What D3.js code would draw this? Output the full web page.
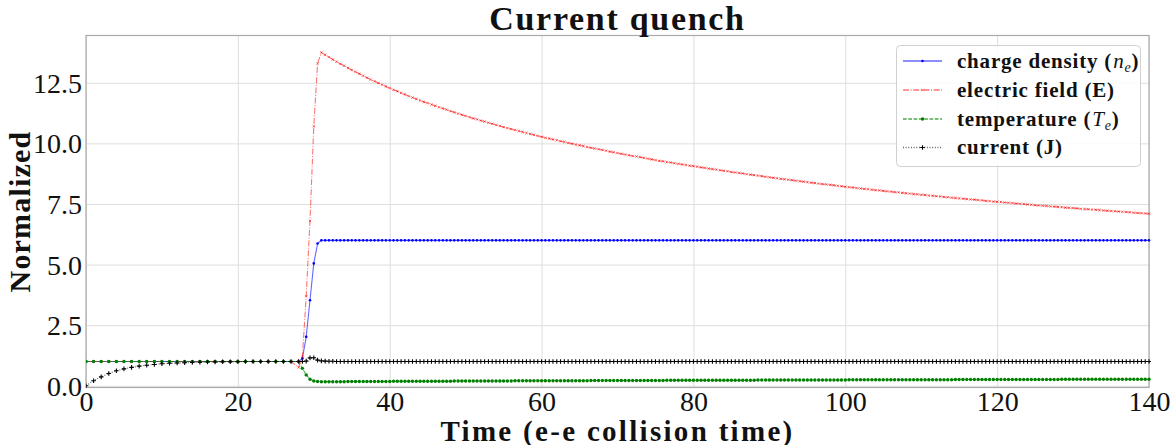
<!DOCTYPE html>
<html><head><meta charset="utf-8">
<script src="https://cdn.jsdelivr.net/npm/d3@7"></script>
<style>body{margin:0;background:#fff}svg{display:block}</style>
</head><body>
<svg id="chart" width="1175" height="445"></svg>
<script>
// ---------- data ----------
const time = [0,1,2,3,4,5,6,7,8,9,10,11,12,13,14,15,16,17,18,19,20,21,22,23,24,25,26,27,28,
 28.5,29,29.5,30,30.5,
 31,31.5,32,32.5,33,33.5,34,34.5,35,35.5,36,36.5,37,37.5,38,38.5,39,39.5,40,
 40.5,41,41.5,42,42.5,43,43.5,44,44.5,45,
 45.5,46,46.5,47,47.5,48,48.5,49,49.5,50,
 50.5,51,51.5,52,52.5,53,53.5,54,54.5,55,
 55.5,56,56.5,57,57.5,58,58.5,59,59.5,60,
 60.5,61,61.5,62,62.5,63,63.5,64,64.5,65,
 65.5,66,66.5,67,67.5,68,68.5,69,69.5,70,
 70.5,71,71.5,72,72.5,73,73.5,74,74.5,75,
 75.5,76,76.5,77,77.5,78,78.5,79,79.5,80,
 80.5,81,81.5,82,82.5,83,83.5,84,84.5,85,
 85.5,86,86.5,87,87.5,88,88.5,89,89.5,90,
 90.5,91,91.5,92,92.5,93,93.5,94,94.5,95,
 95.5,96,96.5,97,97.5,98,98.5,99,99.5,100,
 100.5,101,101.5,102,102.5,103,103.5,104,104.5,105,
 105.5,106,106.5,107,107.5,108,108.5,109,109.5,110,
 110.5,111,111.5,112,112.5,113,113.5,114,114.5,115,
 115.5,116,116.5,117,117.5,118,118.5,119,119.5,120,
 120.5,121,121.5,122,122.5,123,123.5,124,124.5,125,
 125.5,126,126.5,127,127.5,128,128.5,129,129.5,130,
 130.5,131,131.5,132,132.5,133,133.5,134,134.5,135,
 135.5,136,136.5,137,137.5,138,138.5,139,139.5,140];

const chargeDensity = [1,1,1,1,1,1,1,1,1,1,1,1,1,1,1,1,1,1,1,1,1,1,1,1,1,1,1,1,1,
 1.13,2.02,3.53,5.05,5.87,
 6,6,6,6,6,6,6,6,6,6,6,6,6,6,6,6,6,6,6,
 6,6,6,6,6,6,6,6,6,6, 6,6,6,6,6,6,6,6,6,6, 6,6,6,6,6,6,6,6,6,6, 6,6,6,6,6,6,6,6,6,6,
 6,6,6,6,6,6,6,6,6,6, 6,6,6,6,6,6,6,6,6,6, 6,6,6,6,6,6,6,6,6,6, 6,6,6,6,6,6,6,6,6,6,
 6,6,6,6,6,6,6,6,6,6, 6,6,6,6,6,6,6,6,6,6, 6,6,6,6,6,6,6,6,6,6, 6,6,6,6,6,6,6,6,6,6,
 6,6,6,6,6,6,6,6,6,6, 6,6,6,6,6,6,6,6,6,6, 6,6,6,6,6,6,6,6,6,6, 6,6,6,6,6,6,6,6,6,6,
 6,6,6,6,6,6,6,6,6,6, 6,6,6,6,6,6,6,6,6,6, 6,6,6,6,6,6,6,6,6,6, 6,6,6,6,6,6,6,6,6,6];

const electricField = [1,1,1,1,1,1,1,1,1,1,1,1,1,1,1,1,1,1,1,1,1,1,1,1,1,1,1,1,0.76,
 1.2,3.7,6.8,10.7,13.3,
 13.75,13.65,13.56,13.46,13.37,13.28,13.20,13.11,13.03,12.95,12.87,12.79,12.71,12.63,12.56,12.49,12.42,12.35,12.28,
 12.21,12.15,12.08,12.02,11.95,11.89,11.83,11.77,11.71,11.66,
 11.60,11.55,11.49,11.44,11.39,11.33,11.28,11.23,11.18,11.13,
 11.08,11.03,10.99,10.94,10.90,10.85,10.81,10.76,10.72,10.67,
 10.63,10.59,10.55,10.51,10.47,10.43,10.39,10.35,10.31,10.27,
 10.23,10.20,10.16,10.13,10.09,10.06,10.02,9.99,9.95,9.92,
 9.89,9.85,9.82,9.79,9.76,9.73,9.70,9.66,9.63,9.60,
 9.57,9.54,9.51,9.48,9.46,9.43,9.40,9.37,9.34,9.31,
 9.28,9.26,9.23,9.21,9.18,9.16,9.13,9.11,9.08,9.06,
 9.04,9.01,8.99,8.96,8.94,8.92,8.89,8.87,8.85,8.82,
 8.80,8.78,8.76,8.73,8.71,8.69,8.67,8.65,8.62,8.60,
 8.58,8.56,8.54,8.52,8.50,8.48,8.46,8.44,8.42,8.40,
 8.38,8.36,8.34,8.32,8.31,8.29,8.27,8.25,8.23,8.21,
 8.19,8.18,8.16,8.14,8.12,8.11,8.09,8.07,8.06,8.04,
 8.02,8.01,7.99,7.98,7.96,7.94,7.93,7.91,7.90,7.88,
 7.87,7.85,7.84,7.82,7.81,7.79,7.78,7.76,7.75,7.73,
 7.72,7.70,7.69,7.68,7.66,7.65,7.63,7.62,7.60,7.59,
 7.58,7.56,7.55,7.54,7.52,7.51,7.50,7.48,7.47,7.45,
 7.44,7.43,7.42,7.40,7.39,7.38,7.37,7.35,7.34,7.33,
 7.32,7.30,7.29,7.28,7.27,7.26,7.25,7.23,7.22,7.21,
 7.20,7.19,7.18,7.17,7.16,7.14,7.13,7.12,7.11,7.10];

const temperature = [1,1,1,1,1,1,1,1,1,1,1,1,1,1,1,1,1,1,1,1,1,1,1,1,1,1,1,1,1,
 0.72,0.45,0.27,0.2,0.18,
 0.17,0.17,0.17,0.17,0.17,0.17,0.17,0.18,0.18,0.18,0.18,0.18,0.18,0.18,0.18,0.18,0.18,0.18,0.18,
 0.19,0.19,0.19,0.19,0.19,0.19,0.19,0.19,0.19,0.19,
 0.19,0.19,0.19,0.19,0.19,0.19,0.2,0.2,0.2,0.2,
 0.2,0.2,0.2,0.2,0.2,0.2,0.2,0.2,0.2,0.2,
 0.2,0.2,0.21,0.21,0.21,0.21,0.21,0.21,0.21,0.21,
 0.21,0.21,0.21,0.21,0.21,0.21,0.21,0.21,0.21,0.21,
 0.21,0.21,0.22,0.22,0.22,0.22,0.22,0.22,0.22,0.22,
 0.22,0.22,0.22,0.22,0.22,0.22,0.22,0.22,0.22,0.22,
 0.22,0.22,0.23,0.23,0.23,0.23,0.23,0.23,0.23,0.23,
 0.23,0.23,0.23,0.23,0.23,0.23,0.23,0.23,0.23,0.23,
 0.23,0.23,0.23,0.23,0.23,0.23,0.24,0.24,0.24,0.24,
 0.24,0.24,0.24,0.24,0.24,0.24,0.24,0.24,0.24,0.24,
 0.24,0.24,0.24,0.24,0.24,0.24,0.24,0.24,0.24,0.24,
 0.25,0.25,0.25,0.25,0.25,0.25,0.25,0.25,0.25,0.25,
 0.25,0.25,0.25,0.25,0.25,0.25,0.25,0.25,0.25,0.25,
 0.25,0.25,0.25,0.25,0.25,0.25,0.25,0.25,0.26,0.26,
 0.26,0.26,0.26,0.26,0.26,0.26,0.26,0.26,0.26,0.26,
 0.26,0.26,0.26,0.26,0.26,0.26,0.26,0.26,0.26,0.26,
 0.26,0.26,0.26,0.26,0.26,0.26,0.27,0.27,0.27,0.27,
 0.27,0.27,0.27,0.27,0.27,0.27,0.27,0.27,0.27,0.27,
 0.27,0.27,0.27,0.27,0.27,0.27,0.27,0.27,0.27,0.27];

const current = [0,0.21,0.37,0.51,0.62,0.70,0.76,0.81,0.85,0.88,0.91,0.93,0.94,0.95,0.96,0.97,0.98,0.98,0.99,0.99,0.99,1,1,1,1,1,1,1,1,
 1.0,1.02,1.15,1.16,1.06,
 1.03,1.02,1.01,1.01,1,1,1,1,1,1,1,1,1,1,1,1,1,1,1,
 1,1,1,1,1,1,1,1,1,1, 1,1,1,1,1,1,1,1,1,1, 1,1,1,1,1,1,1,1,1,1, 1,1,1,1,1,1,1,1,1,1,
 1,1,1,1,1,1,1,1,1,1, 1,1,1,1,1,1,1,1,1,1, 1,1,1,1,1,1,1,1,1,1, 1,1,1,1,1,1,1,1,1,1,
 1,1,1,1,1,1,1,1,1,1, 1,1,1,1,1,1,1,1,1,1, 1,1,1,1,1,1,1,1,1,1, 1,1,1,1,1,1,1,1,1,1,
 1,1,1,1,1,1,1,1,1,1, 1,1,1,1,1,1,1,1,1,1, 1,1,1,1,1,1,1,1,1,1, 1,1,1,1,1,1,1,1,1,1,
 1,1,1,1,1,1,1,1,1,1, 1,1,1,1,1,1,1,1,1,1, 1,1,1,1,1,1,1,1,1,1, 1,1,1,1,1,1,1,1,1,1];

const xTicks = [0,20,40,60,80,100,120,140];
const yTicks = [0,2.5,5,7.5,10,12.5];
const titleText = "Current quench";
const xLabel = "Time (e-e collision time)";
const yLabel = "Normalized";

// ---------- layout ----------
const svg = d3.select("#chart");
const L = 86, R = 1149, T = 35.5, B = 387.5;
const x = d3.scaleLinear().domain([0,140]).range([L,R]);
const y = d3.scaleLinear().domain([-0.07,14.45]).range([B,T]);
const SERIF = "'Liberation Serif','Times New Roman',serif";

const gx = svg.append("g").attr("transform",`translate(0,${B})`)
  .call(d3.axisBottom(x).tickValues(xTicks).tickSize(-(B-T)).tickPadding(4).tickFormat(d3.format("d")));
const gy = svg.append("g").attr("transform",`translate(${L},0)`)
  .call(d3.axisLeft(y).tickValues(yTicks).tickSize(-(R-L)).tickPadding(4).tickFormat(d3.format(".1f")));
[gx,gy].forEach(g=>{
  g.select(".domain").remove();
  g.selectAll(".tick line").attr("stroke","#dedede").attr("stroke-width",1);
  g.selectAll(".tick text").attr("fill","#111").attr("font-family",SERIF).attr("font-size",28);
});
gy.selectAll(".tick text").attr("dy","0.34em");

svg.append("rect").attr("x",L).attr("y",T).attr("width",R-L).attr("height",B-T)
  .attr("fill","none").attr("stroke","#aaaaaa").attr("stroke-width",1.2);

svg.append("clipPath").attr("id","clip").append("rect")
  .attr("x",L).attr("y",T-2).attr("width",R-L+2).attr("height",B-T+4);
const plot = svg.append("g").attr("clip-path","url(#clip)");

const series = [
  {vals:chargeDensity, color:"blue", dash:null, marker:"dot", r:1.3, op:0.6},
  {vals:electricField, color:"red", dash:"6,1.6,1,1.6", marker:"x", r:1.2, op:0.55},
  {vals:temperature, color:"green", dash:"3.7,1.6", marker:"dot", r:1.7, op:0.7},
  {vals:current, color:"black", dash:"1,1.65", marker:"plus", r:2.3, op:0.6}
];

const line = d3.line().x(d=>x(d[0])).y(d=>y(d[1]));
function markerPath(type, r){
  if(type==="x") return `M${-r},${-r}L${r},${r}M${-r},${r}L${r},${-r}`;
  return `M${-r},0H${r}M0,${-r}V${r}`;
}
function drawMarker(g, s, px, py){
  if(s.marker==="dot"){
    g.append("circle").attr("cx",px).attr("cy",py).attr("r",s.r).attr("fill",s.color);
  } else {
    g.append("path").attr("transform",`translate(${px},${py})`).attr("d",markerPath(s.marker,s.r))
      .attr("stroke",s.color).attr("stroke-opacity",s.marker==="x"?0.8:1)
      .attr("stroke-width",s.marker==="plus"?1.1:0.7).attr("fill","none");
  }
}
series.forEach(s=>{
  const n = Math.min(time.length, s.vals.length);
  const pts = d3.range(n).map(i=>[time[i], s.vals[i]]);
  plot.append("path").attr("d",line(pts)).attr("fill","none")
    .attr("stroke",s.color).attr("stroke-opacity",s.op).attr("stroke-width",1.1)
    .attr("stroke-dasharray",s.dash);
  const mg = plot.append("g");
  pts.forEach(p=>drawMarker(mg, s, x(p[0]), y(p[1])));
});

svg.append("text").attr("x",(L+R)/2).attr("y",29.5).attr("text-anchor","middle")
  .attr("font-family",SERIF).attr("font-weight","bold").attr("font-size",34)
  .attr("letter-spacing",1.7).attr("fill","#111").text(titleText);
svg.append("text").attr("x",(L+R)/2).attr("y",441).attr("text-anchor","middle")
  .attr("font-family",SERIF).attr("font-weight","bold").attr("font-size",29)
  .attr("letter-spacing",2.3).attr("fill","#111").text(xLabel);
svg.append("text").attr("transform",`translate(30,${(T+B)/2}) rotate(-90)`).attr("text-anchor","middle")
  .attr("font-family",SERIF).attr("font-weight","bold").attr("font-size",30)
  .attr("letter-spacing",1.2).attr("fill","#111").text(yLabel);

// legend
const lg = svg.append("g");
lg.append("rect").attr("x",896.5).attr("y",45.5).attr("width",244).attr("height",121).attr("rx",4)
  .attr("fill","#fff").attr("fill-opacity",0.85).attr("stroke","#d0d0d0").attr("stroke-width",1);
const rowY = [61, 90, 119, 147.5];
const labels = [
  [["charge density (","b"],["n","i"],["e","s"],[")","b"]],
  [["electric field (E)","b"]],
  [["temperature (","b"],["T","i"],["e","s"],[")","b"]],
  [["current (J)","b"]]
];
series.forEach((s,i)=>{
  const yy = rowY[i];
  lg.append("line").attr("x1",903).attr("x2",942).attr("y1",yy).attr("y2",yy)
    .attr("stroke",s.color).attr("stroke-opacity",s.op).attr("stroke-width",1.3).attr("stroke-dasharray",s.dash);
  drawMarker(lg, s, 922.5, yy);
  const t = lg.append("text").attr("x",957).attr("y",yy+6.5).attr("font-family",SERIF)
    .attr("font-size",21).attr("letter-spacing",0.8).attr("fill","#111");
  let shift = 0;
  labels[i].forEach(([txt,st])=>{
    const ts = t.append("tspan").text(txt);
    if(st==="b"){ ts.attr("font-weight","bold"); if(shift){ts.attr("dy",-shift); shift=0;} }
    if(st==="i"){ ts.attr("font-style","italic").attr("dx",1); }
    if(st==="s"){ ts.attr("font-style","italic").attr("font-size",14).attr("dy",4); shift=4; }
  });
});
</script>
</body></html>
